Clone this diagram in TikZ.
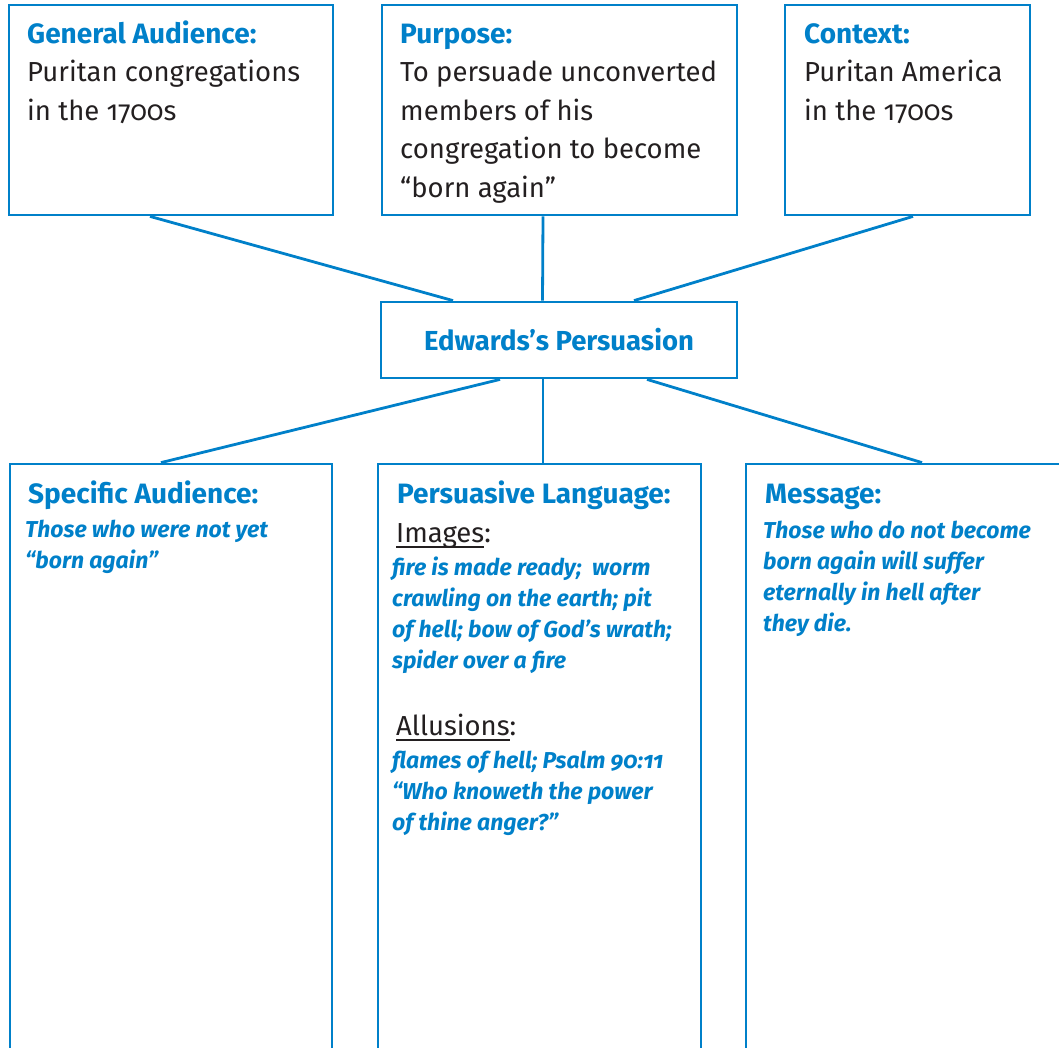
\documentclass[tikz,border=0pt]{standalone}
\usepackage{fontspec}
\setmainfont{Fira Sans}[Numbers=OldStyle]
\definecolor{eblue}{RGB}{0,128,201}
\definecolor{etext}{RGB}{35,31,32}
\newcommand\ulin[1]{\leavevmode\setbox0\hbox{#1}\rlap{\rule[-5.5pt]{\wd0}{1.5pt}}\box0}
\begin{document}
\begin{tikzpicture}[x=1pt,y=-1pt,
  box/.style={draw=eblue,line width=2.8pt,rectangle,inner sep=0pt},
  conn/.style={draw=eblue,line width=2.8pt},
  txt/.style={anchor=base west,inner sep=0pt,align=left},
  head/.style={txt,text=eblue,font=\fontsize{28}{30}\selectfont\bfseries},
  body/.style={txt,text=etext,font=\fontsize{27.5}{38.5}\selectfont},
  ital/.style={txt,text=eblue,font=\fontsize{23}{31}\selectfont\bfseries\itshape},
  sub/.style={txt,text=etext,font=\fontsize{27.5}{31}\selectfont}]
\useasboundingbox (0,0) rectangle (1059,1047);
% boxes
\node[box,minimum width=324pt,minimum height=210pt] (ga) at (171,110) {};
\node[box,minimum width=355pt,minimum height=210pt] (pu) at (559.5,110) {};
\node[box,minimum width=245pt,minimum height=210pt] (ct) at (907.5,110) {};
\node[box,minimum width=356pt,minimum height=76pt,text=eblue,font=\fontsize{27.5}{30}\selectfont\bfseries] (ep) at (559,340) {Edwards’s Persuasion};
\node[box,minimum width=322pt,minimum height=606pt] (sa) at (171,767) {};
\node[box,minimum width=323pt,minimum height=606pt] (pl) at (539.5,767) {};
\node[box,minimum width=329pt,minimum height=606pt] (ms) at (910.5,767) {};
% connectors
\draw[conn] ([xshift=-21pt]ga.south) -- ([xshift=-106pt]ep.north);
\draw[conn] ([xshift=-16.5pt]pu.south) -- ([xshift=-16.5pt]ep.north);
\draw[conn] ([xshift=5.5pt]ct.south) -- ([xshift=75pt]ep.north);
\draw[conn] ([xshift=-59pt]ep.south) -- ([xshift=-10pt]sa.north);
\draw[conn] ([xshift=-16pt]ep.south) -- ([xshift=3.5pt]pl.north);
\draw[conn] ([xshift=88pt]ep.south) -- ([xshift=11.5pt]ms.north);
% top texts (multi-line nodes are placed by the baseline of their last line)
\node[head] (gah) at (27,43) {General Audience:};
\node[body] (gab) at (27,120) {Puritan congregations\\in the 1700s};
\node[head] (puh) at (400,43) {Purpose:};
\node[body] (pub) at (400,197) {To persuade unconverted\\members of his\\congregation to become\\“born again”};
\node[head] (cth) at (804,43) {Context:};
\node[body] (ctb) at (804,120) {Puritan America\\in the 1700s};
% bottom texts
\node[head] (sah) at (28,503) {Specific Audience:};
\node[ital] (sab) at (25,568) {Those who were not yet\\“born again”};
\node[head] (plh) at (397,503) {Persuasive Language:};
\node[sub] (pli) at (396,542) {\ulin{Images}:};
\node[ital] (plt) at (392,668) {fire is made ready;\ \ worm\\crawling on the earth; pit\\of hell; bow of God’s wrath;\\spider over a fire};
\node[sub] (pla) at (396,735) {\ulin{Allusions}:};
\node[ital] (plq) at (392,830) {flames of hell; Psalm 90:11\\“Who knoweth the power\\of thine anger?”};
\node[head] (msh) at (765,503) {Message:};
\node[ital] (msb) at (763,631) {Those who do not become\\born again will suffer\\eternally in hell after\\they die.};
\end{tikzpicture}
\end{document}
